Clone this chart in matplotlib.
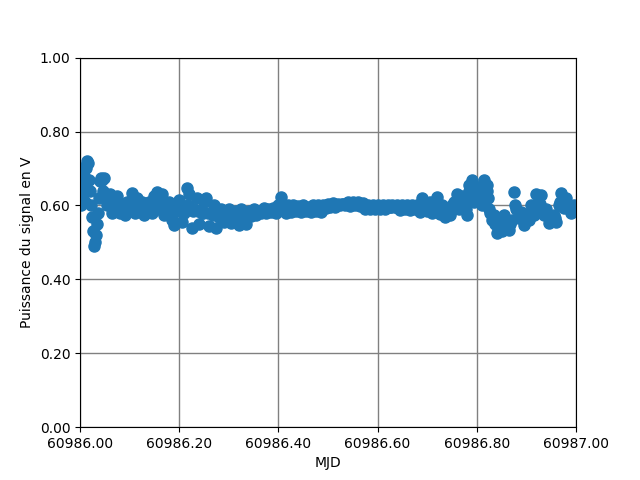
import matplotlib
matplotlib.use("Agg")
import matplotlib.pyplot as plt
from matplotlib.ticker import FormatStrFormatter

mjd_start = 60986.0
# time offsets (days) from MJD 60986.0 -- envelope samples
t_offset = [
    0.000, 0.002, 0.004, 0.006, 0.008, 0.010, 0.012, 0.014, 0.016, 0.018,
    0.020, 0.022, 0.024, 0.026, 0.028, 0.030, 0.032, 0.034, 0.036, 0.038,
    0.040, 0.042, 0.044, 0.046, 0.048, 0.050,
    0.055, 0.060, 0.065, 0.070, 0.075, 0.080, 0.085, 0.090, 0.095, 0.100,
    0.105, 0.110, 0.115, 0.120, 0.125, 0.130, 0.135, 0.140, 0.145, 0.150,
    0.155, 0.160, 0.165, 0.170, 0.175, 0.180, 0.185, 0.190, 0.195, 0.200,
    0.205, 0.210, 0.215, 0.220, 0.225, 0.230, 0.235, 0.240, 0.245, 0.250,
    0.255, 0.260, 0.265, 0.270, 0.275, 0.280, 0.285, 0.290, 0.295, 0.300,
    0.305, 0.310, 0.315, 0.320, 0.325, 0.330, 0.335, 0.340, 0.345, 0.350,
    0.355, 0.360, 0.365, 0.370, 0.375, 0.380, 0.385, 0.390, 0.395, 0.400,
    0.405, 0.410, 0.415, 0.420, 0.425, 0.430, 0.435, 0.440, 0.445, 0.450,
    0.455, 0.460, 0.465, 0.470, 0.475, 0.480, 0.485, 0.490, 0.495, 0.500,
    0.505, 0.510, 0.515, 0.520, 0.525, 0.530, 0.535, 0.540, 0.545, 0.550,
    0.555, 0.560, 0.565, 0.570, 0.575, 0.580, 0.585, 0.590, 0.595, 0.600,
    0.605, 0.610, 0.615, 0.620, 0.625, 0.630, 0.635, 0.640, 0.645, 0.650,
    0.655, 0.660, 0.665, 0.670, 0.675, 0.680, 0.685, 0.690, 0.695, 0.700,
    0.705, 0.710, 0.715, 0.720, 0.725, 0.730, 0.735, 0.740, 0.745, 0.750,
    0.755, 0.760, 0.765, 0.770, 0.775, 0.780, 0.785, 0.790, 0.795, 0.800,
    0.805, 0.810, 0.815, 0.820, 0.825, 0.830, 0.835, 0.840, 0.845, 0.850,
    0.855, 0.860, 0.865, 0.870, 0.875, 0.880, 0.885, 0.890, 0.895, 0.900,
    0.905, 0.910, 0.915, 0.920, 0.925, 0.930, 0.935, 0.940, 0.945, 0.950,
    0.955, 0.960, 0.965, 0.970, 0.975, 0.980, 0.985, 0.990, 0.995, 1.000,
]
power_v = [
    0.700, 0.600, 0.660, 0.630, 0.680, 0.610, 0.700, 0.720, 0.715, 0.670,
    0.640, 0.600, 0.570, 0.530, 0.490, 0.500, 0.520, 0.550, 0.580, 0.620,
    0.665, 0.675, 0.670, 0.640, 0.675, 0.620,
    0.600, 0.630, 0.580, 0.610, 0.625, 0.580, 0.600, 0.575, 0.610, 0.600,
    0.634, 0.580, 0.620, 0.585, 0.610, 0.575, 0.600, 0.610, 0.580, 0.625,
    0.637, 0.590, 0.630, 0.575, 0.600, 0.610, 0.560, 0.547, 0.590, 0.615,
    0.555, 0.580, 0.648, 0.630, 0.540, 0.590, 0.620, 0.550, 0.580, 0.610,
    0.620, 0.545, 0.580, 0.600, 0.540, 0.570, 0.590, 0.555, 0.575, 0.590,
    0.553, 0.570, 0.585, 0.547, 0.590, 0.565, 0.550, 0.585, 0.572, 0.590,
    0.575, 0.585, 0.580, 0.593, 0.580, 0.590, 0.582, 0.593, 0.580, 0.600,
    0.623, 0.600, 0.580, 0.600, 0.583, 0.600, 0.585, 0.598, 0.583, 0.600,
    0.585, 0.595, 0.583, 0.600, 0.585, 0.600, 0.583, 0.600, 0.593, 0.605,
    0.595, 0.607, 0.597, 0.603, 0.600, 0.605, 0.600, 0.610, 0.598, 0.610,
    0.600, 0.610, 0.598, 0.607, 0.590, 0.600, 0.590, 0.600, 0.590, 0.600,
    0.590, 0.600, 0.590, 0.600, 0.595, 0.600, 0.595, 0.600, 0.587, 0.600,
    0.590, 0.600, 0.587, 0.600, 0.590, 0.600, 0.583, 0.620, 0.600, 0.585,
    0.610, 0.580, 0.600, 0.623, 0.577, 0.600, 0.570, 0.590, 0.575, 0.600,
    0.610, 0.630, 0.590, 0.625, 0.600, 0.575, 0.640, 0.670, 0.610, 0.650,
    0.630, 0.600, 0.670, 0.640, 0.590, 0.560, 0.575, 0.525, 0.550, 0.530,
    0.575, 0.545, 0.534, 0.560, 0.637, 0.590, 0.566, 0.583, 0.547, 0.565,
    0.560, 0.600, 0.575, 0.630, 0.590, 0.628, 0.575, 0.590, 0.553, 0.570,
    0.575, 0.555, 0.600, 0.635, 0.593, 0.620, 0.600, 0.580, 0.600, 0.585,
]

# band-centre samples read between the envelope samples
t_mid = [
    0.0575, 0.0675, 0.0775, 0.0875, 0.0975, 0.1075, 0.1175, 0.1275, 0.1375, 0.1475,
    0.1575, 0.1675, 0.1775, 0.1875, 0.1975, 0.2075, 0.2175, 0.2275, 0.2375, 0.2475,
    0.2575, 0.2675, 0.2775, 0.2875, 0.2975, 0.3075, 0.3175, 0.3275, 0.3375, 0.3475,
    0.3575, 0.3675, 0.3775, 0.3875, 0.3975, 0.4075, 0.4175, 0.4275, 0.4375, 0.4475,
    0.4575, 0.4675, 0.4775, 0.4875, 0.4975, 0.5075, 0.5175, 0.5275, 0.5375, 0.5475,
    0.5575, 0.5675, 0.5775, 0.5875, 0.5975, 0.6075, 0.6175, 0.6275, 0.6375, 0.6475,
    0.6575, 0.6675, 0.6775, 0.6875, 0.6975, 0.7075, 0.7175, 0.7275, 0.7375, 0.7475,
    0.7575, 0.7675, 0.7775, 0.7825, 0.7850, 0.7875, 0.7925, 0.7975, 0.8000, 0.8025,
    0.8075, 0.8125, 0.8175, 0.8200, 0.8225, 0.8275, 0.8300, 0.8375, 0.8475,
    0.8575, 0.8675, 0.8775, 0.8875, 0.8975, 0.9075, 0.9175, 0.9275, 0.9375, 0.9475,
    0.9575, 0.9675, 0.9775, 0.9875, 0.9975,
]
power_mid = [
    0.605, 0.605, 0.600, 0.595, 0.600, 0.605, 0.600, 0.595, 0.595, 0.600,
    0.610, 0.600, 0.585, 0.580, 0.585, 0.585, 0.600, 0.585, 0.585, 0.580,
    0.580, 0.575, 0.580, 0.575, 0.570, 0.570, 0.570, 0.570, 0.570, 0.580,
    0.583, 0.585, 0.587, 0.587, 0.590, 0.605, 0.590, 0.590, 0.592, 0.590,
    0.590, 0.590, 0.592, 0.592, 0.600, 0.600, 0.600, 0.603, 0.605, 0.605,
    0.605, 0.603, 0.595, 0.595, 0.595, 0.595, 0.595, 0.597, 0.597, 0.594,
    0.594, 0.594, 0.594, 0.600, 0.595, 0.595, 0.600, 0.590, 0.585, 0.585,
    0.610, 0.605, 0.590, 0.620, 0.655, 0.640, 0.655, 0.635, 0.625, 0.615,
    0.635, 0.650, 0.630, 0.655, 0.620, 0.580, 0.575, 0.550, 0.550,
    0.555, 0.550, 0.600, 0.570, 0.560, 0.580, 0.600, 0.605, 0.585, 0.570,
    0.565, 0.610, 0.610, 0.590, 0.590,
]

x_ticks = [60986.0, 60986.2, 60986.4, 60986.6, 60986.8, 60987.0]
y_ticks = [0.0, 0.2, 0.4, 0.6, 0.8, 1.0]

mjd = [mjd_start + t for t in t_offset]
mjd_mid = [mjd_start + t for t in t_mid]

fig, ax = plt.subplots(figsize=(6.4, 4.8), dpi=100)
ax.plot(mjd, power_v, 'o', color='#1f77b4', markersize=8)
ax.plot(mjd_mid, power_mid, 'o', color='#1f77b4', markersize=8)
ax.set_xlim(60986.0, 60987.0)
ax.set_ylim(0.0, 1.0)
ax.set_xticks(x_ticks)
ax.set_yticks(y_ticks)
ax.xaxis.set_major_formatter(FormatStrFormatter('%.2f'))
ax.yaxis.set_major_formatter(FormatStrFormatter('%.2f'))
ax.grid(True, color='grey', linewidth=1.0)
ax.set_xlabel('MJD')
ax.set_ylabel('Puissance du signal en V')
fig.savefig('out.png', dpi=100)
